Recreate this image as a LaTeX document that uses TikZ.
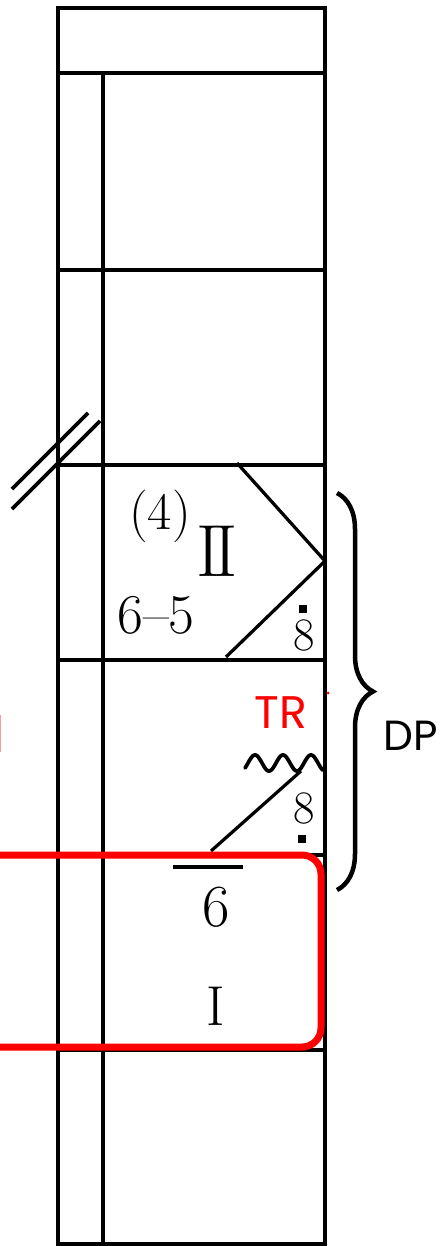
\documentclass[tikz,border=0pt]{standalone}
\usepackage{fontspec}
\newfontfamily\sansf{Poppins}
\usetikzlibrary{decorations.pathreplacing}
\begin{document}
\begin{tikzpicture}[x=0.02cm,y=-0.02cm,
  gridline/.style={line width=0.09cm, line cap=rect},
  diag/.style={line width=0.065cm},
  redbox/.style={draw=red, line width=0.14cm, rounded corners=0.38cm},
  txt/.style={inner sep=0pt, outer sep=0pt},
  dotmark/.style={fill=black, minimum size=0.15cm, inner sep=0pt}]
\useasboundingbox (0,0) rectangle (442,1246);
% table grid
\draw[gridline] (58,8) rectangle (325,1244);
\draw[gridline] (58,73) -- (325,73);
\draw[gridline] (103,73) -- (103,1244);
\foreach \yy in {270,465,660,855,1050} \draw[gridline] (58,\yy) -- (325,\yy);
% double slash
\draw[diag, line width=0.075cm] (12,489) -- (88,413);
\draw[diag, line width=0.075cm] (12,509) -- (100,421);
% chevron in II cell
\coordinate (ctop) at (237,463);
\coordinate (ctip) at (325,561);
\coordinate (cbot) at (226,657);
\draw[diag] (ctop) -- (ctip) -- (cbot);
% lower diagonal
\coordinate (dlo) at (211,851);
\coordinate (dhi) at (301,771);
\draw[diag] (dlo) -- (dhi);
% wave
\draw[line width=0.075cm, line cap=round] plot[domain=0:78, samples=120, smooth] ({245+\x}, {763 - 8*sin((\x-3)/28*360)});
% overline bar
\draw[line width=0.08cm] (173,867) -- (243,867);
% red box
\draw[redbox] (-40,855) rectangle (321,1047);
% red fragment at left edge
\draw[red!40, line width=0.04cm] (0.5,715) -- (0.5,752);
% red tiny dot
\fill[red] (328,693) circle (1.5);
% brace
\draw[line width=0.09cm, decorate, decoration={brace, amplitude=0.72cm, aspect=0.5}] (337,493) -- (337,890);
% texts
\node[txt, font=\fontsize{30}{30}\selectfont] (p4) at (160,516) {(4)};
\node[txt, font=\fontsize{42}{42}\selectfont] (II) at (217,551) {I\kern-0.09em I};
\node[txt, font=\fontsize{32}{32}\selectfont] (sf) at (156,615) {6--5};
\node[txt, font=\fontsize{26.5}{26.5}\selectfont] (e1) at (304,635) {8};
\node[dotmark] (d1) at (303,609) {};
\node[txt, font=\fontsize{26.5}{26.5}\selectfont] (e2) at (304,808) {8};
\node[dotmark] (d2) at (302,839) {};
\node[txt, font=\fontsize{34}{34}\selectfont] (six) at (216,907) {6};
\node[txt, font=\fontsize{32}{32}\selectfont] (one) at (216,1006) {I};
\node[txt, text=red, font=\sansf\fontsize{26}{26}\selectfont] (tr) at (281,713) {TR};
\node[txt, font=\sansf\fontsize{24}{24}\selectfont] (dp) at (411,736) {DP};
\end{tikzpicture}
\end{document}
